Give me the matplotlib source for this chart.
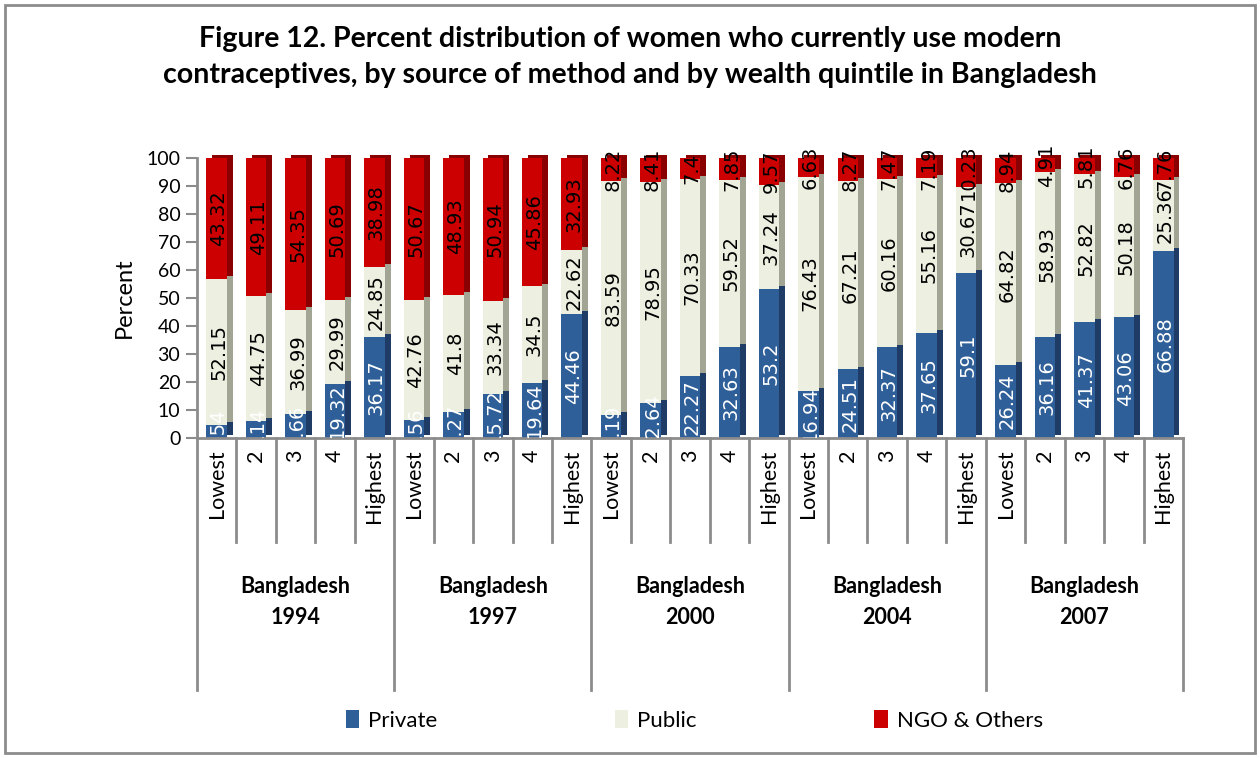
import matplotlib.pyplot as plt
from matplotlib.patches import Rectangle
from matplotlib.transforms import Bbox, TransformedBbox, blended_transform_factory
import numpy as np

plt.rcParams['font.family'] = ['Lato', 'DejaVu Sans']

# data
surveys = ['Bangladesh\n1994', 'Bangladesh\n1997', 'Bangladesh\n2000',
           'Bangladesh\n2004', 'Bangladesh\n2007']
quintiles = ['Lowest', '2', '3', '4', 'Highest']

private = [4.54, 6.14, 8.66, 19.32, 36.17,
           6.56, 9.27, 15.72, 19.64, 44.46,
           8.19, 12.64, 22.27, 32.63, 53.2,
           16.94, 24.51, 32.37, 37.65, 59.1,
           26.24, 36.16, 41.37, 43.06, 66.88]
public = [52.15, 44.75, 36.99, 29.99, 24.85,
          42.76, 41.8, 33.34, 34.5, 22.62,
          83.59, 78.95, 70.33, 59.52, 37.24,
          76.43, 67.21, 60.16, 55.16, 30.67,
          64.82, 58.93, 52.82, 50.18, 25.36]
ngo = [43.32, 49.11, 54.35, 50.69, 38.98,
       50.67, 48.93, 50.94, 45.86, 32.93,
       8.22, 8.41, 7.4, 7.85, 9.57,
       6.63, 8.27, 7.47, 7.19, 10.23,
       8.94, 4.91, 5.81, 6.76, 7.76]

series = [('Private', private, '#2F5F98', '#1E3C66', 'white'),
          ('Public', public, '#EDEFE0', '#A2A494', 'black'),
          ('NGO & Others', ngo, '#CC0000', '#8A0000', 'black')]

fig = plt.figure(figsize=(12.6, 7.58), dpi=100)
fig.patches.append(Rectangle((0.004, 0.006), 0.992, 0.988, transform=fig.transFigure,
                             fill=False, edgecolor='#8C8C8C', linewidth=2))

ax = fig.add_axes([197 / 1260, 1 - 438 / 758, (1183 - 197) / 1260, 280 / 758])

x = np.arange(len(private))
w = 0.52
dx, dy = 0.15, 1.0

# clip labels at the floor only, like the original
clip = TransformedBbox(Bbox([[-0.5, 0], [len(x) - 0.5, 125]]), ax.transData)

bottom = np.zeros(len(x))
handles = []
for name, vals, front, side, tc in series:
    vals = np.array(vals)
    ax.bar(x + dx, vals, w, bottom=bottom + dy, color=side, zorder=1, clip_on=False)
    b = ax.bar(x, vals, w, bottom=bottom, color=front, zorder=2, label=name)
    handles.append(b)
    for xi, b0, v in zip(x, bottom, vals):
        t = ax.text(xi + 0.05, b0 + v / 2, '%g' % v, rotation=90, ha='center', va='center',
                    fontsize=14, color=tc, family='DejaVu Sans', zorder=5)
        t.set_clip_box(clip)
        t.set_clip_on(True)
    bottom = bottom + vals

ax.set_xlim(-0.5, len(x) - 0.5)
ax.set_ylim(0, 100)
ax.set_yticks(range(0, 101, 10))
ax.tick_params(axis='y', direction='out', length=8, width=1.5, color='#8C8C8C',
               labelsize=14, pad=4)
ax.set_xticks([])
for s in ['top', 'right']:
    ax.spines[s].set_visible(False)
for s in ['left', 'bottom']:
    ax.spines[s].set_color('#8C8C8C')
    ax.spines[s].set_linewidth(2)
ax.set_ylabel('Percent', fontsize=17, labelpad=8)

# category axis: quintile labels, separators and survey labels
tr = blended_transform_factory(ax.transData, ax.transAxes)
for i in x:
    ax.text(i, -0.04, quintiles[i % 5], rotation=90, ha='center', va='top',
            fontsize=15.5, transform=tr)
for i in range(len(x) + 1):
    low = -0.90 if i % 5 == 0 else -0.37
    ax.plot([i - 0.5, i - 0.5], [0, low], color='#8C8C8C', lw=2,
            transform=tr, clip_on=False)
for g, lab in enumerate(surveys):
    ax.text(g * 5 + 2, -0.585, lab, ha='center', va='center', fontsize=15.5,
            fontweight='bold', linespacing=1.6, transform=tr)

fig.text(0.5, 0.925, 'Figure 12. Percent distribution of women who currently use modern\n'
         'contraceptives, by source of method and by wealth quintile in Bangladesh',
         ha='center', va='center', fontsize=20.5, fontweight='bold', linespacing=1.45)

fig.legend(handles=handles, loc='center', bbox_to_anchor=(0.551, 0.05), ncol=3,
           frameon=False, fontsize=16, handlelength=0.6, handleheight=0.9,
           handletextpad=0.4, columnspacing=8.0)

fig.savefig('out.png', dpi=100)
